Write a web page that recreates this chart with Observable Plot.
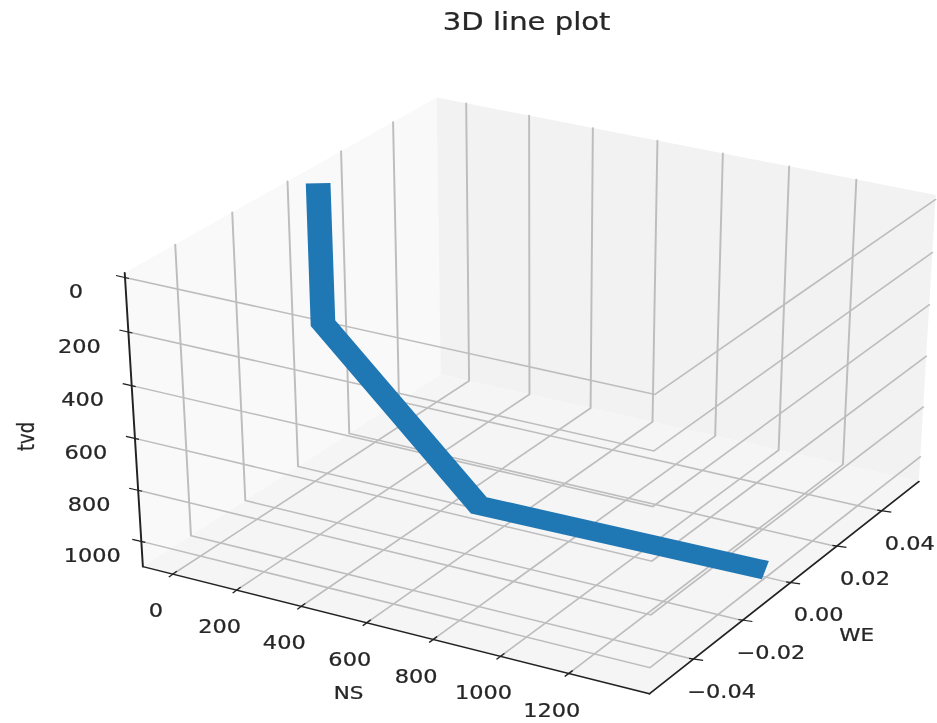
<!DOCTYPE html>
<html><head><meta charset="utf-8">
<script src="https://cdn.jsdelivr.net/npm/d3@7"></script>
<script src="https://cdn.jsdelivr.net/npm/@observablehq/plot@0.6"></script>
<style>html,body{margin:0;padding:0;background:#fff}svg{display:block}</style>
</head><body><div id="chart"></div>
<script>
// Well path values
const NS = [1, 2, 484, 1359];
const WE = [0, 0, 0, 0];
const TVD = [-33, 500, 1084, 1073];
// Tick values
const nsTicks = [0, 200, 400, 600, 800, 1000, 1200];
const weTicks = [-0.04, -0.02, 0, 0.02, 0.04];
const tvdTicks = [0, 200, 400, 600, 800, 1000];
// Axis limits
const nsLim = [-95, 1433];
const weLim = [-0.0572, 0.0572];
const tvdLim = [1100, -17];

// 3D view (elev 30, azim -60, box 4:4:3) onto the picture plane
const n = [0.433, -0.75, 0.5], ux = [0.866, 0.5, 0], vy = [-0.25, 0.433, 0.866];
const dist = 8.5;
const dot = (a, b) => a[0]*b[0] + a[1]*b[1] + a[2]*b[2];
function project(ns, we, tvd) {
  const p = [
    (ns - nsLim[0]) / (nsLim[1] - nsLim[0]) - 0.5,
    (we - weLim[0]) / (weLim[1] - weLim[0]) - 0.5,
    ((tvd - tvdLim[0]) / (tvdLim[1] - tvdLim[0]) - 0.5) * 0.75
  ];
  const f = dist / (dist - dot(n, p));
  return {px: 537.3 + 580.4 * f * dot(ux, p), py: 380.9 - 446.5 * f * dot(vy, p)};
}
const poly = (id, pts) => pts.map(q => ({id, ...project(...q)}));
const [N0, N1] = nsLim, [W0, W1] = weLim, [Zb, Zt] = tvdLim;

const panes = [
  {c: "#f9f9f9", pts: poly("x", [[N0,W0,Zb],[N0,W1,Zb],[N0,W1,Zt],[N0,W0,Zt]])},
  {c: "#f2f2f2", pts: poly("y", [[N0,W1,Zb],[N1,W1,Zb],[N1,W1,Zt],[N0,W1,Zt]])},
  {c: "#f5f5f5", pts: poly("z", [[N0,W0,Zb],[N1,W0,Zb],[N1,W1,Zb],[N0,W1,Zb]])}
];
const grid = [
  ...nsTicks.flatMap(v => poly("n" + v, [[v,W0,Zb],[v,W1,Zb],[v,W1,Zt]])),
  ...weTicks.flatMap(v => poly("w" + v, [[N1,v,Zb],[N0,v,Zb],[N0,v,Zt]])),
  ...tvdTicks.flatMap(v => poly("t" + v, [[N0,W0,v],[N1,W0,v],[N1,W1,v]]))
];
const axes = [
  ...poly("ans", [[N0,W0,Zb],[N1,W0,Zb]]),
  ...poly("awe", [[N1,W0,Zb],[N1,W1,Zb]]),
  ...poly("atv", [[N0,W0,Zb],[N0,W0,Zt]])
];
const nsPos = nsTicks.map(v => ({v, ...project(v, W0, Zb)}));
const wePos = weTicks.map(v => ({v, ...project(N1, v, Zb)}));
const tvPos = tvdTicks.map(v => ({v, ...project(N0, W0, v)}));
const path = NS.map((v, i) => project(v, WE[i], TVD[i]));
const minus = s => s.replace("-", "\u2212");
const ink = {fill: "#262626", stroke: "#262626", strokeWidth: 0.25};

const plot = Plot.plot({
  width: 721, height: 723,
  margin: 0,
  x: {domain: [0, 937], range: [0, 721], axis: null},
  y: {domain: [0, 723], range: [0, 723], axis: null},
  style: {fontFamily: "DejaVu Sans", background: "#fff"},
  marks: [
    ...panes.map(p => Plot.line(p.pts, {x: "px", y: "py", fill: p.c, stroke: "none", curve: "linear-closed"})),
    Plot.line(grid, {x: "px", y: "py", z: "id", stroke: "#bdbdbd", strokeWidth: 1.5, strokeLinejoin: "miter", strokeMiterlimit: 10}),
    Plot.line(axes, {x: "px", y: "py", z: "id", stroke: "#222", strokeWidth: 1.5}),
    Plot.link(nsPos, {x1: d => d.px - 4, y1: d => d.py + 3, x2: d => d.px + 4, y2: d => d.py - 3, stroke: "#222", strokeWidth: 1.2}),
    Plot.link(wePos, {x1: d => d.px - 4, y1: d => d.py - 1, x2: d => d.px + 10, y2: d => d.py + 1, stroke: "#222", strokeWidth: 1.2}),
    Plot.link(tvPos, {x1: d => d.px - 9, y1: d => d.py - 2, x2: d => d.px + 4, y2: d => d.py + 1, stroke: "#222", strokeWidth: 1.2}),
    Plot.text(nsPos, {x: d => d.px - 17, y: d => d.py + 37, text: d => String(d.v), fontSize: 19, ...ink}),
    Plot.text(wePos, {x: d => d.px + 28.5, y: d => d.py + 32.5, text: d => minus(d.v.toFixed(2)), fontSize: 19, ...ink}),
    Plot.text(tvPos, {x: d => d.px - 49, y: d => d.py + 14.5, text: d => String(d.v), fontSize: 19, ...ink}),
    Plot.line(path, {x: "px", y: "py", stroke: "#1f77b4", strokeWidth: 19, strokeLinejoin: "miter", strokeMiterlimit: 10, strokeLinecap: "butt"}),
    Plot.text(["3D line plot"], {x: () => 526, y: () => 22, text: d => d, fontSize: 24, ...ink}),
    Plot.text(["NS"], {x: () => 348, y: () => 693, text: d => d, fontSize: 18.2, ...ink}),
    Plot.text(["WE"], {x: () => 856, y: () => 635, text: d => d, fontSize: 18.2, ...ink}),
    Plot.text(["tvd"], {x: () => 26, y: () => 436, text: d => d, fontSize: 18, rotate: -90, ...ink})
  ]
});
plot.setAttribute("width", 937);
plot.setAttribute("height", 723);
plot.setAttribute("preserveAspectRatio", "none");
plot.style.width = "937px";
plot.style.height = "723px";
plot.style.maxWidth = "none";
plot.style.filter = "blur(0.45px)";
document.getElementById("chart").append(plot);
// Horizontal text is a little narrower than the picture's stretch gives it
plot.querySelectorAll("text").forEach(t => {
  const s = t.textContent;
  if (s === "tvd") return;
  const k = s === "3D line plot" ? 0.933 : 0.91;
  t.setAttribute("textLength", t.getComputedTextLength() * k);
  t.setAttribute("lengthAdjust", "spacingAndGlyphs");
});
</script></body></html>
